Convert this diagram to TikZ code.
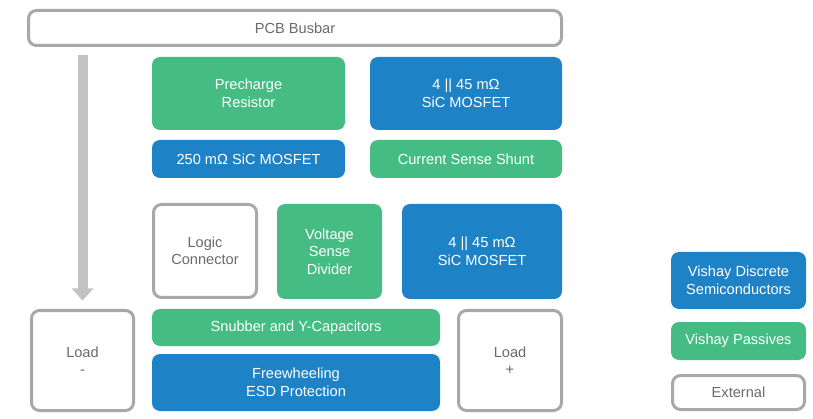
\documentclass[tikz,border=0pt]{standalone}
\usepackage{fontspec}
\setmainfont{Liberation Sans}
\usetikzlibrary{arrows.meta}
\definecolor{vgreen}{HTML}{45BC84}
\definecolor{vblue}{HTML}{1E82C6}
\definecolor{vgray}{HTML}{A8A8A8}
\definecolor{vtext}{HTML}{6A6A6A}
\definecolor{varrow}{HTML}{C2C2C2}
\tikzset{
  base/.style={rectangle, rounded corners=8pt, align=center, inner sep=0pt,
    font=\fontsize{14.6}{17.5}\selectfont},
  blu/.style={base, fill=vblue, text=white},
  grn/.style={base, fill=vgreen, text=white},
  ext/.style={base, draw=vgray, line width=3pt, fill=white, text=vtext},
  flow/.style={draw=varrow, line width=10pt, -{Triangle[width=21pt,length=12pt]}}
}
\begin{document}
\begin{tikzpicture}[x=1pt,y=1pt]
\useasboundingbox[fill=white] (0,0) rectangle (813,-419);
\node[ext, minimum width=533pt, minimum height=35pt] (busbar) at (295,-28) {PCB Busbar};
\node[grn, minimum width=193pt, minimum height=73pt] (pre) at (248.5,-93.5) {Precharge\\Resistor};
\node[blu, minimum width=192pt, minimum height=73pt] (mosA) at (466,-93.5) {4 || 45 mΩ\\SiC MOSFET};
\node[blu, minimum width=193pt, minimum height=38pt] (m250) at (248.5,-159) {250 mΩ SiC MOSFET};
\node[grn, minimum width=192pt, minimum height=38pt] (shunt) at (466,-159) {Current Sense Shunt};
\node[ext, minimum width=103pt, minimum height=93pt] (logic) at (205,-251) {Logic\\Connector};
\node[grn, minimum width=105pt, minimum height=95pt] (vsd) at (329.5,-251.5) {Voltage\\Sense\\Divider};
\node[blu, minimum width=160pt, minimum height=95pt] (mosB) at (482,-251.5) {4 || 45 mΩ\\SiC MOSFET};
\node[grn, minimum width=288pt, minimum height=37pt] (snub) at (296,-327.5) {Snubber and Y-Capacitors};
\node[blu, minimum width=288pt, minimum height=57pt] (free) at (296,-382.5) {Freewheeling\\ESD Protection};
\node[ext, minimum width=102pt, minimum height=100pt] (loadm) at (82.5,-360.5) {Load\\-};
\node[ext, minimum width=103pt, minimum height=100pt] (loadp) at (510,-360.5) {Load\\+};
\node[blu, minimum width=135pt, minimum height=57pt] (legD) at (738.5,-280.5) {Vishay Discrete\\Semiconductors};
\node[grn, minimum width=135pt, minimum height=38pt] (legP) at (738.5,-341) {Vishay Passives};
\node[ext, minimum width=132pt, minimum height=34pt] (legE) at (738.5,-392.5) {External};
\draw[flow] ([yshift=-8.5pt]busbar.south -| loadm.north) -- ([yshift=8.5pt]loadm.north);
\end{tikzpicture}
\end{document}
